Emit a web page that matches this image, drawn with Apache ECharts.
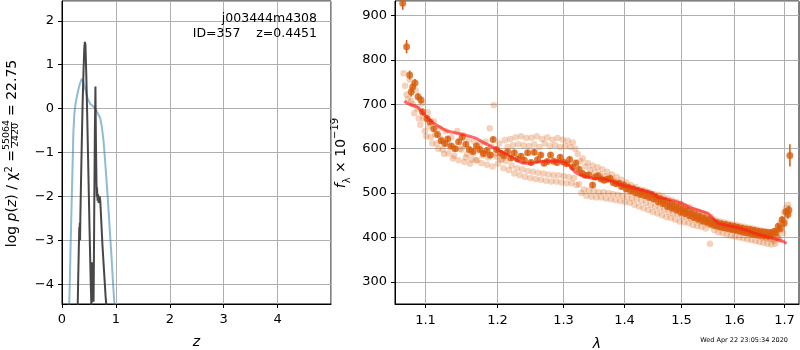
<!DOCTYPE html>
<html>
<head>
<meta charset="utf-8">
<script src="https://cdn.jsdelivr.net/npm/echarts@6/dist/echarts.min.js"></script>
<style>
  html, body { margin: 0; padding: 0; background: #fff; }
  #main { width: 800px; height: 350px; }
</style>
</head>
<body>
<div id="main"></div>
<script>
// ---- left panel: log p(z) ----
const pzPrior = [
  [0.13, -4.6], [0.14, -4.2], [0.16, -3.1], [0.18, -2.1], [0.20, -1.1], [0.21, -0.57],
  [0.23, -0.1], [0.25, 0.1], [0.28, 0.3], [0.30, 0.41], [0.33, 0.56], [0.366, 0.68],
  [0.39, 0.62], [0.43, 0.45], [0.47, 0.25], [0.52, 0.11], [0.56, 0.07], [0.61, 0.02],
  [0.66, -0.1], [0.71, -0.22], [0.74, -0.42], [0.77, -0.73], [0.80, -1.2], [0.83, -1.7],
  [0.86, -2.25], [0.89, -2.84], [0.92, -3.4], [0.95, -4.05], [0.97, -4.4], [0.99, -4.7]
];
const pzFit = [
  [0.29, -4.6], [0.30, -3.9], [0.31, -3.3], [0.32, -2.7], [0.325, -2.9], [0.33, -2.6],
  [0.335, -3.0], [0.34, -2.5], [0.36, -1.2], [0.38, 0.0], [0.40, 0.9], [0.415, 1.4],
  [0.425, 1.52], [0.435, 1.45], [0.45, 0.8], [0.47, -0.3], [0.49, -1.5], [0.51, -2.7],
  [0.53, -3.8], [0.545, -4.5], [0.555, -4.2], [0.56, -3.5], [0.565, -3.6], [0.57, -4.3],
  [0.58, -4.0], [0.585, -4.4], [0.59, -3.8], [0.60, -2.0], [0.61, -0.5], [0.62, 0.5],
  [0.63, -0.8], [0.64, -1.7], [0.645, -2.0], [0.65, -1.8], [0.66, -2.1], [0.67, -1.95],
  [0.68, -2.15], [0.70, -2.0], [0.71, -2.1], [0.73, -2.6], [0.75, -3.1], [0.78, -3.7],
  [0.81, -4.3], [0.83, -4.6]
];

// ---- right panel: spectrum ----
const lamTicks = [1.1, 1.2, 1.3, 1.4, 1.5, 1.6, 1.7];

const modelLine = [
  [1.073, 707], [1.08, 700], [1.09, 694], [1.10, 676], [1.11, 660], [1.12, 649], [1.13, 640],
  [1.15, 633], [1.17, 624], [1.18, 615], [1.20, 599], [1.22, 583], [1.24, 567], [1.25, 567],
  [1.27, 572], [1.29, 572], [1.30, 570], [1.31, 563], [1.32, 547], [1.33, 540], [1.35, 533],
  [1.37, 531], [1.40, 517], [1.42, 511], [1.45, 499], [1.46, 490], [1.47, 488], [1.50, 478],
  [1.52, 466], [1.55, 454], [1.57, 432], [1.60, 424], [1.62, 418], [1.65, 406], [1.68, 397],
  [1.70, 390], [1.705, 386]
];

// [lambda, flux, err]
const binned = [
  [1.071, 928, 15], [1.076, 830, 15], [1.080, 766, 10], [1.082, 728, 10], [1.084, 739, 10],
  [1.087, 748, 9], [1.091, 717, 8], [1.095, 710, 8], [1.097, 683, 8], [1.103, 668, 7],
  [1.107, 660, 6], [1.112, 645, 6], [1.117, 632, 6], [1.122, 618, 6], [1.127, 612, 6],
  [1.131, 622, 6], [1.136, 606, 6], [1.141, 600, 6], [1.146, 616, 6], [1.151, 626, 6],
  [1.156, 610, 6], [1.161, 598, 6], [1.166, 594, 6], [1.171, 606, 6], [1.176, 598, 6],
  [1.181, 589, 6], [1.186, 596, 6], [1.191, 586, 6], [1.195, 621, 6], [1.200, 598, 6],
  [1.206, 590, 6], [1.211, 584, 6], [1.216, 593, 6], [1.221, 579, 6], [1.226, 591, 6],
  [1.231, 577, 6], [1.236, 583, 6], [1.241, 574, 6], [1.246, 591, 6], [1.251, 569, 6],
  [1.256, 592, 6], [1.261, 575, 6], [1.266, 586, 6], [1.271, 567, 6], [1.276, 571, 6],
  [1.281, 586, 6], [1.286, 572, 6], [1.291, 569, 6], [1.296, 581, 6], [1.301, 570, 6],
  [1.306, 566, 6], [1.311, 576, 6], [1.316, 559, 6], [1.321, 568, 6], [1.326, 554, 6],
  [1.331, 545, 6], [1.336, 540, 6], [1.342, 541, 6], [1.348, 518, 6], [1.352, 536, 6],
  [1.357, 539, 6], [1.362, 532, 6], [1.367, 529, 6], [1.372, 531, 6], [1.377, 533, 6],
  [1.382, 524, 6], [1.387, 521, 6], [1.392, 522, 6], [1.396, 515, 6], [1.400, 518, 6],
  [1.404, 509, 6], [1.408, 513, 6], [1.412, 504, 6], [1.416, 510, 6], [1.420, 500, 6],
  [1.424, 506, 6], [1.428, 497, 6], [1.432, 503, 6], [1.436, 494, 6], [1.440, 500, 6],
  [1.444, 490, 6], [1.448, 497, 6], [1.452, 486, 6], [1.456, 492, 6], [1.460, 480, 6],
  [1.464, 487, 6], [1.468, 476, 6], [1.472, 483, 6], [1.476, 470, 6], [1.480, 477, 6],
  [1.484, 466, 6], [1.488, 472, 6], [1.492, 462, 6], [1.496, 469, 6], [1.500, 457, 6],
  [1.504, 464, 6], [1.508, 454, 6], [1.512, 460, 6], [1.516, 449, 6], [1.520, 455, 6],
  [1.524, 445, 6], [1.528, 451, 6], [1.532, 441, 6], [1.536, 447, 6], [1.540, 437, 6],
  [1.544, 444, 6], [1.548, 434, 6], [1.552, 440, 6], [1.556, 430, 6], [1.560, 436, 6],
  [1.564, 427, 6], [1.568, 433, 6], [1.572, 424, 6], [1.576, 431, 6], [1.580, 422, 6],
  [1.584, 429, 6], [1.588, 420, 6], [1.592, 427, 6], [1.596, 418, 6], [1.600, 425, 6],
  [1.604, 416, 6], [1.608, 423, 6], [1.612, 414, 6], [1.616, 421, 6], [1.620, 412, 6],
  [1.624, 419, 6], [1.628, 410, 6], [1.632, 418, 6], [1.636, 408, 6], [1.640, 416, 6],
  [1.644, 406, 6], [1.648, 414, 6], [1.652, 405, 6], [1.656, 413, 6], [1.660, 404, 6],
  [1.664, 412, 6], [1.668, 403, 6], [1.672, 411, 6], [1.676, 406, 6], [1.680, 414, 6],
  [1.684, 410, 6], [1.688, 425, 6], [1.692, 420, 6], [1.696, 440, 7], [1.700, 432, 8],
  [1.704, 458, 8], [1.708, 452, 9], [1.710, 462, 10], [1.712, 585, 25]
];

// two grism orientations, unbinned
const specA = [
  [1.072, 770], [1.076, 722], [1.080, 756], [1.084, 700], [1.088, 732], [1.092, 668],
  [1.096, 702], [1.100, 640], [1.104, 682], [1.108, 626], [1.112, 662], [1.116, 612],
  [1.120, 646], [1.124, 598], [1.128, 640], [1.132, 590], [1.136, 626], [1.140, 584],
  [1.144, 640], [1.148, 600], [1.152, 631], [1.156, 580], [1.160, 621], [1.164, 576],
  [1.168, 616], [1.172, 574], [1.176, 612], [1.180, 585], [1.184, 616], [1.188, 580],
  [1.190, 646], [1.192, 605], [1.196, 698], [1.200, 582], [1.204, 612], [1.208, 576],
  [1.212, 619], [1.216, 604], [1.220, 622], [1.224, 608], [1.228, 626], [1.232, 610],
  [1.236, 628], [1.240, 608], [1.244, 624], [1.248, 606], [1.252, 625], [1.256, 610],
  [1.260, 628], [1.264, 604], [1.268, 622], [1.272, 612], [1.276, 626], [1.280, 606],
  [1.284, 620], [1.288, 608], [1.292, 624], [1.296, 604], [1.300, 620], [1.304, 606],
  [1.308, 618], [1.312, 604], [1.316, 614], [1.320, 600], [1.324, 588], [1.328, 572],
  [1.332, 578], [1.336, 560], [1.340, 568], [1.344, 552], [1.348, 562], [1.352, 548],
  [1.356, 558], [1.360, 542], [1.364, 554], [1.368, 538], [1.372, 548], [1.376, 535],
  [1.380, 542], [1.384, 528], [1.388, 536], [1.392, 522], [1.396, 530], [1.400, 516],
  [1.404, 524], [1.408, 510], [1.412, 518], [1.416, 504], [1.420, 514], [1.424, 500],
  [1.428, 508], [1.432, 496], [1.436, 506], [1.440, 492], [1.444, 502], [1.448, 488],
  [1.452, 498], [1.456, 486], [1.460, 496], [1.464, 482], [1.468, 492], [1.472, 478],
  [1.476, 488], [1.480, 472], [1.484, 484], [1.488, 468], [1.492, 480], [1.496, 464],
  [1.500, 476], [1.504, 460], [1.508, 470], [1.512, 456], [1.516, 468], [1.520, 452],
  [1.524, 462], [1.528, 448], [1.532, 458], [1.536, 444], [1.540, 454], [1.544, 440],
  [1.548, 450], [1.552, 436], [1.556, 446], [1.560, 430], [1.564, 440], [1.568, 426],
  [1.572, 436], [1.576, 424], [1.580, 434], [1.584, 420], [1.588, 432], [1.592, 418],
  [1.596, 430], [1.600, 416], [1.604, 428], [1.608, 414], [1.612, 426], [1.616, 412],
  [1.620, 424], [1.624, 410], [1.628, 422], [1.632, 408], [1.636, 420], [1.640, 406],
  [1.644, 418], [1.648, 404], [1.652, 416], [1.656, 400], [1.660, 414], [1.664, 398],
  [1.668, 412], [1.672, 396], [1.676, 410], [1.680, 392], [1.684, 415], [1.688, 400],
  [1.692, 432], [1.696, 440], [1.700, 456], [1.704, 466], [1.708, 474]
];
const specB = [
  [1.074, 742], [1.078, 712], [1.082, 708], [1.086, 680], [1.090, 690], [1.094, 654],
  [1.098, 668], [1.102, 628], [1.106, 650], [1.110, 612], [1.114, 632], [1.118, 600],
  [1.122, 622], [1.126, 588], [1.130, 612], [1.134, 604], [1.138, 578], [1.142, 600],
  [1.146, 574], [1.150, 598], [1.154, 570], [1.158, 588], [1.162, 566], [1.166, 590],
  [1.170, 574], [1.174, 596], [1.178, 568], [1.182, 590], [1.186, 564], [1.190, 584],
  [1.194, 560], [1.198, 588], [1.202, 566], [1.206, 576], [1.210, 556], [1.214, 572],
  [1.218, 552], [1.222, 562], [1.226, 544], [1.230, 556], [1.234, 540], [1.238, 554],
  [1.242, 536], [1.246, 550], [1.250, 534], [1.254, 548], [1.258, 532], [1.262, 546],
  [1.266, 530], [1.270, 544], [1.274, 528], [1.278, 542], [1.282, 526], [1.286, 540],
  [1.290, 526], [1.294, 540], [1.298, 524], [1.302, 538], [1.306, 522], [1.310, 536],
  [1.314, 522], [1.318, 534], [1.322, 518], [1.326, 520], [1.330, 500], [1.334, 508],
  [1.338, 494], [1.342, 506], [1.346, 492], [1.350, 504], [1.354, 490], [1.358, 502],
  [1.362, 490], [1.366, 502], [1.370, 488], [1.374, 500], [1.378, 486], [1.382, 498],
  [1.386, 484], [1.390, 496], [1.394, 482], [1.398, 494], [1.402, 480], [1.406, 492],
  [1.410, 478], [1.414, 488], [1.418, 474], [1.422, 486], [1.426, 470], [1.430, 482],
  [1.434, 466], [1.438, 478], [1.442, 462], [1.446, 474], [1.450, 458], [1.454, 470],
  [1.458, 454], [1.462, 466], [1.466, 450], [1.470, 462], [1.474, 446], [1.478, 458],
  [1.482, 444], [1.486, 454], [1.490, 440], [1.494, 452], [1.498, 436], [1.502, 448],
  [1.506, 434], [1.510, 446], [1.514, 432], [1.518, 442], [1.522, 428], [1.526, 440],
  [1.530, 426], [1.534, 436], [1.538, 424], [1.542, 434], [1.546, 420], [1.550, 430],
  [1.554, 386], [1.558, 426], [1.562, 416], [1.566, 424], [1.570, 412], [1.574, 422],
  [1.578, 410], [1.582, 420], [1.586, 406], [1.590, 418], [1.594, 404], [1.598, 416],
  [1.602, 402], [1.606, 414], [1.610, 400], [1.614, 412], [1.618, 398], [1.622, 410],
  [1.626, 396], [1.630, 408], [1.634, 394], [1.638, 406], [1.642, 392], [1.646, 404],
  [1.650, 390], [1.654, 402], [1.658, 388], [1.662, 400], [1.666, 386], [1.670, 398],
  [1.674, 384], [1.678, 396], [1.682, 386], [1.686, 400], [1.690, 396], [1.694, 418],
  [1.698, 410], [1.702, 440]
];

const FONT = 'DejaVu Sans';
const ORANGE = '#d95f0e';
const fluxMin = 250, fluxMax = 933;

const myChart = echarts.init(document.getElementById('main'), null, { renderer: 'canvas' });

const minusFmt = v => (v < 0 ? '\u2212' + (-v) : String(v));

// gridline + tick + label at each lambda tick (log axis, custom positions)
function renderLamTick(params, api) {
  const lam = api.value(0);
  const b = api.coord([lam, fluxMin]);
  const t = api.coord([lam, fluxMax]);
  const x = Math.round(b[0]) + 0.5;
  return {
    type: 'group',
    children: [
      { type: 'line', shape: { x1: x, y1: b[1], x2: x, y2: t[1] }, style: { stroke: '#b0b0b0', lineWidth: 1 } },
      { type: 'line', shape: { x1: x, y1: b[1], x2: x, y2: b[1] + 4 }, style: { stroke: '#000', lineWidth: 1 } },
      { type: 'text', x: x, y: b[1] + 10, style: { text: lam.toFixed(1), font: '13px ' + FONT, fill: '#000', align: 'center', verticalAlign: 'top' } }
    ]
  };
}

function renderErr(params, api) {
  const lam = api.value(0), f = api.value(1), e = api.value(2);
  const lo = api.coord([lam, f - e]);
  const hi = api.coord([lam, f + e]);
  return { type: 'line', shape: { x1: lo[0], y1: lo[1], x2: hi[0], y2: hi[1] }, style: { stroke: ORANGE, lineWidth: 1.6 } };
}

const axisCommon = {
  axisLine: { show: true, onZero: false, lineStyle: { color: '#000', width: 1 } },
  axisTick: { show: true, inside: false, length: 4, lineStyle: { color: '#000' } },
  axisLabel: { color: '#000', fontFamily: FONT, fontSize: 13, showMinLabel: false, showMaxLabel: false, formatter: minusFmt },
  splitLine: { show: true, lineStyle: { color: '#b0b0b0', width: 1 } }
};

let option = {
  backgroundColor: '#ffffff',
  animation: false,
  grid: [
    { left: 62, top: 1, width: 269, height: 303, show: true, borderColor: '#000', borderWidth: 1, outerBoundsMode: 'none', containLabel: false },
    { left: 395, top: 1, width: 404, height: 303, show: true, borderColor: '#000', borderWidth: 1, outerBoundsMode: 'none', containLabel: false }
  ],
  xAxis: [
    Object.assign({}, axisCommon, {
      type: 'value', gridIndex: 0, min: 0, max: 4.99, splitNumber: 5,
      axisLabel: Object.assign({}, axisCommon.axisLabel, { margin: 9, showMinLabel: true }),
      name: 'z', nameLocation: 'middle', nameGap: 31,
      nameTextStyle: { fontFamily: FONT, fontSize: 14, fontStyle: 'italic', color: '#000' }
    }),
    {
      type: 'log', gridIndex: 1, min: 1.061, max: 1.731, logBase: 10,
      axisLine: { show: true, lineStyle: { color: '#000' } },
      axisTick: { show: false }, axisLabel: { show: false }, splitLine: { show: false },
      name: 'λ', nameLocation: 'middle', nameGap: 33,
      nameTextStyle: { fontFamily: FONT, fontSize: 14, fontStyle: 'italic', color: '#000' }
    }
  ],
  yAxis: [
    Object.assign({}, axisCommon, { type: 'value', gridIndex: 0, min: -4.45, max: 2.45, splitNumber: 7 }),
    Object.assign({}, axisCommon, { type: 'value', gridIndex: 1, min: fluxMin, max: fluxMax, splitNumber: 7 })
  ],
  graphic: [
    // left y label with fraction
    {
      type: 'group', x: 12, y: 147, rotation: Math.PI / 2,
      children: [
        { type: 'text', x: -3, y: 0, style: { text: 'log {i|p}({i|z}) / χ{s|2} =', align: 'right', verticalAlign: 'middle', font: '14px ' + FONT, fill: '#000',
            rich: { i: { fontStyle: 'italic', fontSize: 14, fontFamily: FONT }, s: { fontSize: 10, fontFamily: FONT, verticalAlign: 'top', lineHeight: 16 } } } },
        { type: 'text', x: 12, y: -5.5, style: { text: '55064', align: 'center', verticalAlign: 'middle', font: '9.5px ' + FONT, fill: '#000' } },
        { type: 'line', shape: { x1: -1, y1: -0.5, x2: 25, y2: -0.5 }, style: { stroke: '#000', lineWidth: 0.8 } },
        { type: 'text', x: 12, y: 4, style: { text: '2420', align: 'center', verticalAlign: 'middle', font: '9.5px ' + FONT, fill: '#000' } },
        { type: 'text', x: 31, y: 0, style: { text: '= 22.75', align: 'left', verticalAlign: 'middle', font: '14px ' + FONT, fill: '#000' } }
      ]
    },
    // right y label
    {
      type: 'group', x: 341, y: 153, rotation: Math.PI / 2,
      children: [
        { type: 'text', x: 0, y: 0, style: { text: '{i|f}{sub|λ} × 10{sup|\u221219}', align: 'center', verticalAlign: 'middle', font: '14px ' + FONT, fill: '#000',
            rich: { i: { fontStyle: 'italic', fontSize: 14, fontFamily: FONT, lineHeight: 22 }, sub: { fontSize: 10, fontFamily: FONT, verticalAlign: 'bottom', lineHeight: 22 }, sup: { fontSize: 10, fontFamily: FONT, verticalAlign: 'top', lineHeight: 22 } } } }
      ]
    },
    { type: 'text', x: 317, y: 19, style: { text: 'j003444m4308', align: 'right', verticalAlign: 'middle', font: '12.5px ' + FONT, fill: '#000' }, z: 10 },
    { type: 'text', x: 317, y: 34, style: { text: 'ID=357    z=0.4451', align: 'right', verticalAlign: 'middle', font: '12.5px ' + FONT, fill: '#000' }, z: 10 },
    { type: 'text', x: 788, y: 340, style: { text: 'Wed Apr 22 23:05:34 2020', align: 'right', verticalAlign: 'middle', font: '6.5px ' + FONT, fill: '#000' } }
  ],
  series: [
    { name: 'prior', type: 'line', xAxisIndex: 0, yAxisIndex: 0, data: pzPrior, showSymbol: false, clip: true,
      lineStyle: { color: '#1f77b4', width: 2, opacity: 0.5 }, z: 2 },
    { name: 'pz', type: 'line', xAxisIndex: 0, yAxisIndex: 0, data: pzFit, showSymbol: false, clip: true,
      lineStyle: { color: '#333333', width: 2, opacity: 0.9 }, z: 3 },
    { name: 'ticks', type: 'custom', xAxisIndex: 1, yAxisIndex: 1, data: lamTicks.map(v => [v, fluxMin]),
      renderItem: renderLamTick, silent: true, z: 1 },
    { name: 'specA', type: 'scatter', xAxisIndex: 1, yAxisIndex: 1, data: specA, symbolSize: 6.5,
      itemStyle: { color: ORANGE, opacity: 0.28 }, z: 2 },
    { name: 'specB', type: 'scatter', xAxisIndex: 1, yAxisIndex: 1, data: specB, symbolSize: 6.5,
      itemStyle: { color: ORANGE, opacity: 0.28 }, z: 2 },
    { name: 'err', type: 'custom', xAxisIndex: 1, yAxisIndex: 1, data: binned, clip: true,
      renderItem: renderErr, encode: { x: 0, y: 1 }, z: 3 },
    { name: 'binned', type: 'scatter', xAxisIndex: 1, yAxisIndex: 1, data: binned, symbolSize: 7,
      encode: { x: 0, y: 1 }, itemStyle: { color: ORANGE }, z: 3 },
    { name: 'model', type: 'line', xAxisIndex: 1, yAxisIndex: 1, data: modelLine, showSymbol: false, smooth: 0.2,
      lineStyle: { color: '#ff1a1a', width: 3, opacity: 0.65 }, z: 4 }
  ]
};
option && myChart.setOption(option);
</script>
</body>
</html>
